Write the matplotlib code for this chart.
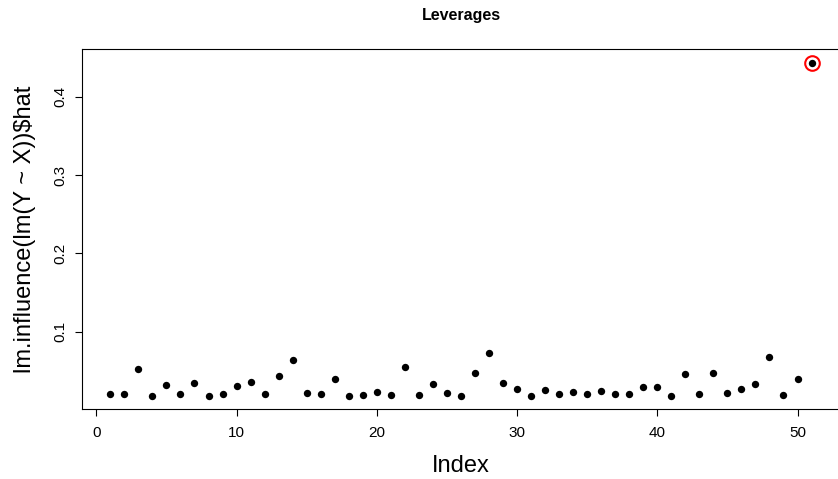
import matplotlib
matplotlib.use("Agg")
import matplotlib.pyplot as plt
import numpy as np

plt.rcParams['font.family'] = ['Liberation Sans', 'DejaVu Sans']

# hat values of lm(Y ~ X), one per observation
hat = [0.0208, 0.0208, 0.0527, 0.0187, 0.0323, 0.0204, 0.0345, 0.0187, 0.0212, 0.0314,
       0.0357, 0.0208, 0.0442, 0.0646, 0.0221, 0.0204, 0.0396, 0.0187, 0.0195, 0.0230,
       0.0191, 0.0557, 0.0200, 0.0340, 0.0221, 0.0187, 0.0476, 0.0732, 0.0345, 0.0268,
       0.0187, 0.0255, 0.0212, 0.0230, 0.0204, 0.0246, 0.0212, 0.0204, 0.0298, 0.0293,
       0.0187, 0.0460, 0.0212, 0.0472, 0.0225, 0.0268, 0.0340, 0.0685, 0.0191, 0.0400,
       0.4432]
idx = np.arange(1, len(hat) + 1)
flagged = [51]

fig = plt.figure(figsize=(8.38, 4.79), dpi=100)
ax = fig.add_axes([0.0982, 0.1461, 0.9037, 0.7510])

ax.plot(idx, hat, 'o', color='black', markersize=5.3, markeredgewidth=0)
for i in flagged:
    ax.plot(i, hat[i - 1], 'o', markerfacecolor='none', markeredgecolor='red',
            markersize=10.5, markeredgewidth=1.5)

# R-style 4% padding on both axes
xr = idx.max() - idx.min()
yr = max(hat) - min(hat)
ax.set_xlim(idx.min() - 0.04 * xr, idx.max() + 0.04 * xr)
ax.set_ylim(min(hat) - 0.04 * yr, max(hat) + 0.04 * yr)

ax.set_xticks([0, 10, 20, 30, 40, 50])
ax.set_yticks([0.1, 0.2, 0.3, 0.4])
ax.set_yticklabels(['0.1', '0.2', '0.3', '0.4'], rotation=90, va='center')
ax.tick_params(direction='out', length=5, width=0.8, labelsize=11)
ax.tick_params(axis='x', pad=7)
ax.tick_params(axis='y', pad=6)

for s in ax.spines.values():
    s.set_linewidth(0.8)

ax.set_title("Leverages", fontsize=11.5, fontweight='bold', pad=21)
ax.set_xlabel("Index", fontsize=17, labelpad=11)
ax.set_ylabel("lm.influence(lm(Y ~ X))\\$hat", fontsize=17, labelpad=12)

plt.savefig("out.png", dpi=100)
plt.close()
